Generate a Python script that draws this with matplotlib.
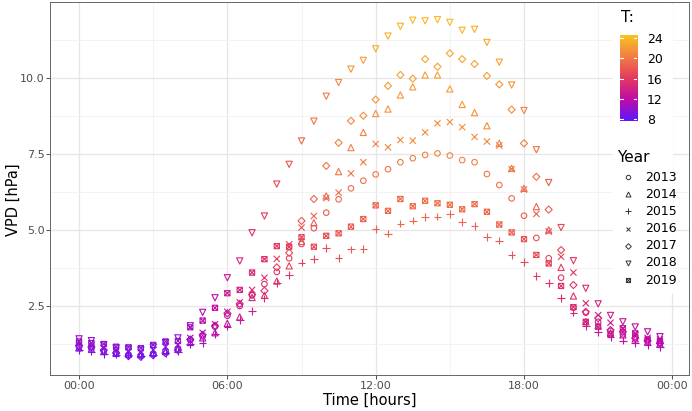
import numpy as np
import matplotlib
matplotlib.use("Agg")
import matplotlib.pyplot as plt
from matplotlib.colors import LinearSegmentedColormap, Normalize
from matplotlib.path import Path
from matplotlib.lines import Line2D
from matplotlib.patches import Rectangle

# half-hourly time of day (hours)
times = np.arange(0, 24, 0.5)
years = ["2013", "2014", "2015", "2016", "2017", "2018", "2019"]

vpd_2013 = [1.15, 1.10, 1.02, 0.97, 0.90, 0.88, 0.93, 1.02, 1.10, 1.38, 1.50, 1.82,
            2.18, 2.50, 2.85, 3.22, 3.62, 4.07, 4.54, 5.06, 5.57, 6.01, 6.37, 6.62,
            6.83, 7.00, 7.23, 7.36, 7.47, 7.52, 7.45, 7.30, 7.23, 6.84, 6.48, 6.04,
            5.47, 4.74, 4.07, 3.43, 2.45, 2.28, 1.98, 1.68, 1.57, 1.48, 1.38, 1.30]
vpd_2014 = [1.12, 1.08, 1.00, 0.94, 0.92, 0.90, 0.95, 1.00, 1.08, 1.30, 1.45, 1.62,
            1.93, 2.14, 2.78, 2.85, 3.32, 3.82, 4.62, 5.24, 6.12, 6.92, 7.71, 8.21,
            8.83, 8.98, 9.44, 9.71, 10.10, 10.10, 9.64, 9.13, 8.86, 8.43, 7.85, 7.03,
            6.37, 5.77, 5.00, 3.77, 2.83, 1.98, 1.85, 1.62, 1.55, 1.42, 1.32, 1.25]
vpd_2015 = [1.05, 1.00, 0.93, 0.90, 0.88, 0.86, 0.90, 0.95, 1.00, 1.25, 1.29, 1.58,
            1.82, 2.04, 2.34, 2.75, 3.25, 3.51, 3.93, 4.04, 4.41, 4.07, 4.36, 4.38,
            5.04, 4.88, 5.21, 5.31, 5.42, 5.44, 5.53, 5.27, 5.14, 4.76, 4.65, 4.17,
            3.94, 3.49, 3.25, 2.77, 2.28, 1.84, 1.65, 1.47, 1.36, 1.27, 1.22, 1.14]
vpd_2016 = [1.26, 1.20, 1.12, 1.05, 1.00, 0.98, 1.05, 1.15, 1.22, 1.45, 1.62, 1.90,
            2.31, 2.62, 3.03, 3.43, 4.05, 4.53, 5.08, 5.46, 6.05, 6.23, 6.86, 7.23,
            7.83, 7.72, 7.96, 7.94, 8.21, 8.51, 8.55, 8.38, 8.06, 7.91, 7.78, 7.00,
            6.33, 5.53, 4.95, 4.12, 3.60, 2.59, 2.20, 1.95, 1.75, 1.55, 1.45, 1.40]
vpd_2017 = [1.20, 1.15, 1.05, 0.95, 0.85, 0.83, 0.88, 0.95, 1.05, 1.40, 1.55, 1.85,
            2.26, 2.57, 2.88, 3.00, 3.77, 4.25, 5.30, 6.02, 7.11, 7.87, 8.59, 8.76,
            9.29, 9.74, 10.10, 9.98, 10.62, 10.37, 10.81, 10.62, 10.46, 10.07, 9.79, 8.96,
            7.85, 6.75, 5.67, 4.34, 3.19, 2.31, 2.10, 1.71, 1.65, 1.44, 1.35, 1.27]
vpd_2018 = [1.42, 1.36, 1.22, 1.12, 1.08, 1.05, 1.15, 1.30, 1.45, 1.85, 2.29, 2.77,
            3.43, 3.98, 4.91, 5.46, 6.51, 7.16, 7.93, 8.58, 9.40, 9.85, 10.29, 10.58,
            10.96, 11.38, 11.70, 11.90, 11.88, 11.92, 11.83, 11.57, 11.60, 11.17, 10.52, 9.77,
            8.93, 7.64, 6.56, 5.08, 3.99, 3.08, 2.57, 2.19, 1.98, 1.81, 1.65, 1.49]
vpd_2019 = [1.33, 1.28, 1.25, 1.16, 1.14, 1.11, 1.22, 1.33, 1.35, 1.80, 2.02, 2.44,
            2.92, 3.03, 3.60, 4.04, 4.47, 4.45, 4.76, 4.45, 4.81, 4.89, 5.11, 5.36,
            5.81, 5.63, 6.02, 5.78, 5.96, 5.88, 5.83, 5.68, 5.85, 5.60, 5.18, 4.92,
            4.70, 4.18, 3.90, 3.16, 2.46, 1.98, 1.82, 1.57, 1.77, 1.60, 1.40, 1.35]

# air temperature (colour)
t_2013 = [10.0, 9.8, 9.5, 9.3, 9.1, 9.0, 9.1, 9.4, 9.9, 10.6, 11.2, 12.0,
          12.8, 13.6, 14.4, 15.1, 15.8, 16.5, 17.1, 17.7, 18.3, 18.8, 19.2, 19.5,
          19.8, 20.0, 20.2, 20.4, 20.5, 20.6, 20.6, 20.5, 20.4, 20.1, 19.7, 19.2,
          18.5, 17.7, 16.9, 16.0, 15.0, 14.4, 13.8, 13.2, 12.8, 12.4, 12.1, 11.8]
t_2014 = [9.8, 9.6, 9.4, 9.2, 9.0, 8.9, 9.0, 9.3, 9.8, 10.4, 11.0, 11.8,
          12.6, 13.4, 14.3, 15.0, 15.8, 16.6, 17.5, 18.3, 19.1, 19.8, 20.4, 20.9,
          21.3, 21.6, 21.9, 22.1, 22.2, 22.3, 22.2, 22.0, 21.7, 21.3, 20.8, 20.1,
          19.4, 18.6, 17.6, 16.4, 15.3, 14.3, 13.6, 13.0, 12.6, 12.2, 11.8, 11.5]
t_2015 = [9.6, 9.4, 9.2, 9.0, 8.9, 8.8, 8.9, 9.1, 9.5, 10.1, 10.7, 11.4,
          12.2, 13.0, 13.8, 14.5, 15.2, 15.8, 16.4, 16.9, 17.3, 17.6, 17.9, 18.1,
          18.4, 18.6, 18.8, 18.9, 19.0, 19.1, 19.1, 19.0, 18.8, 18.5, 18.1, 17.6,
          17.0, 16.3, 15.5, 14.7, 14.0, 13.4, 12.9, 12.4, 12.0, 11.7, 11.4, 11.1]
t_2016 = [10.2, 10.0, 9.7, 9.5, 9.3, 9.2, 9.3, 9.7, 10.2, 10.9, 11.6, 12.4,
          13.2, 14.0, 14.8, 15.5, 16.2, 16.9, 17.6, 18.3, 18.9, 19.4, 19.9, 20.3,
          20.7, 20.9, 21.1, 21.2, 21.3, 21.4, 21.4, 21.3, 21.1, 20.8, 20.4, 19.9,
          19.2, 18.4, 17.6, 16.7, 15.7, 14.8, 14.1, 13.5, 13.0, 12.6, 12.3, 12.0]
t_2017 = [10.0, 9.7, 9.4, 9.1, 8.8, 8.7, 8.8, 9.2, 9.8, 10.5, 11.2, 12.0,
          12.9, 13.8, 14.7, 15.5, 16.4, 17.2, 18.1, 18.9, 19.7, 20.4, 21.0, 21.4,
          21.8, 22.1, 22.4, 22.5, 22.7, 22.7, 22.8, 22.7, 22.5, 22.2, 21.8, 21.2,
          20.4, 19.4, 18.3, 17.0, 15.8, 14.8, 14.0, 13.4, 12.9, 12.4, 12.0, 11.7]
t_2018 = [10.5, 10.2, 9.9, 9.6, 9.4, 9.2, 9.2, 9.4, 9.9, 10.5, 11.3, 12.2,
          13.2, 14.2, 15.2, 16.1, 17.0, 17.9, 18.8, 19.6, 20.4, 21.1, 21.8, 22.4,
          22.9, 23.3, 23.6, 23.8, 23.9, 24.0, 23.9, 23.7, 23.4, 23.0, 22.4, 21.6,
          20.7, 19.6, 18.4, 17.1, 16.0, 15.0, 14.2, 13.5, 12.9, 12.4, 12.0, 11.6]
t_2019 = [10.4, 10.2, 10.0, 9.8, 9.6, 9.5, 9.6, 9.9, 10.3, 11.0, 11.7, 12.5,
          13.3, 14.0, 14.7, 15.3, 15.9, 16.4, 16.9, 17.3, 17.7, 18.0, 18.3, 18.6,
          18.9, 19.1, 19.3, 19.4, 19.5, 19.6, 19.6, 19.5, 19.3, 19.1, 18.8, 18.4,
          17.9, 17.3, 16.6, 15.8, 15.0, 14.3, 13.7, 13.2, 12.8, 12.4, 12.1, 11.8]

vpd = [vpd_2013, vpd_2014, vpd_2015, vpd_2016, vpd_2017, vpd_2018, vpd_2019]
temp = [t_2013, t_2014, t_2015, t_2016, t_2017, t_2018, t_2019]

# ggplot-like shapes 1..7 ; shape 7 = square with a cross
box_x = Path([(-1, -1), (1, -1), (1, 1), (-1, 1), (-1, -1),
              (-1, -1), (1, 1), (-1, 1), (1, -1)],
             [Path.MOVETO, Path.LINETO, Path.LINETO, Path.LINETO, Path.CLOSEPOLY,
              Path.MOVETO, Path.LINETO, Path.MOVETO, Path.LINETO])
markers = ["o", "^", "+", "x", "D", "v", box_x]
sizes = [16, 20, 30, 20, 13, 20, 14]

cmap = LinearSegmentedColormap.from_list(
    "tcol", [(0.0, "#5C18FF"), (0.25, "#C00CA8"), (0.5, "#E33A5E"),
             (0.75, "#F27E45"), (1.0, "#FCC21F")])
tmin, tmax = 7.7, 24.6
norm = Normalize(tmin, tmax)

W, H = 692, 411
fig = plt.figure(figsize=(W / 100, H / 100), dpi=100)
# panel box in pixels: x 50..689, y 2..375
ax = fig.add_axes([50 / W, (H - 375) / H, 639 / W, 373 / H])

for k, yr in enumerate(years):
    cols = cmap(norm(np.array(temp[k])))
    if markers[k] in ("+", "x"):
        ax.scatter(times, vpd[k], marker=markers[k], color=cols, s=sizes[k],
                   linewidths=0.8, zorder=3)
    else:
        ax.scatter(times, vpd[k], marker=markers[k], facecolors="none",
                   edgecolors=cols, s=sizes[k], linewidths=0.8, zorder=3)

ax.set_xlim(-1.175, 24.675)
ax.set_ylim(0.23, 12.5)
ax.set_xticks([0, 6, 12, 18, 24])
ax.set_xticklabels(["00:00", "06:00", "12:00", "18:00", "00:00"])
ax.set_xticks([3, 9, 15, 21], minor=True)
ax.set_yticks([2.5, 5.0, 7.5, 10.0])
ax.set_yticklabels(["2.5", "5.0", "7.5", "10.0"])
ax.set_yticks([1.25, 3.75, 6.25, 8.75, 11.25], minor=True)

ax.set_axisbelow(True)
ax.grid(which="major", color="#E6E6E6", linewidth=0.9)
ax.grid(which="minor", color="#F1F1F1", linewidth=0.6)
ax.tick_params(which="major", length=3, width=0.6, color="#333333",
               labelsize=8, labelcolor="#4D4D4D", pad=1)
ax.tick_params(which="minor", length=0)
for sp in ax.spines.values():
    sp.set_color("#666666")
    sp.set_linewidth(0.7)

fig.text(370 / W, (H - 400) / H, "Time [hours]", fontsize=10.5,
         ha="center", va="center")
fig.text(13 / W, (H - 200) / H, "VPD [hPa]", fontsize=10.5, rotation=90,
         ha="center", va="center")

# white legend background inside the panel
ax.add_patch(Rectangle((613 / W, (H - 294) / H), 60 / W, 290 / H,
                       transform=fig.transFigure, facecolor="white",
                       edgecolor="none", zorder=1))

# colour bar legend
fig.text(621 / W, (H - 18) / H, "T:", fontsize=11, va="center", ha="left")
cax = fig.add_axes([620 / W, (H - 121) / H, 17 / W, 86 / H])
grad = np.linspace(tmin, tmax, 256).reshape(-1, 1)
cax.imshow(grad, aspect="auto", cmap=cmap, norm=norm, origin="lower",
           extent=[0, 1, tmin, tmax])
cax.set_xlim(0, 1)
cax.set_ylim(tmin, tmax)
cax.set_xticks([])
cax.set_yticks([8, 12, 16, 20, 24])
cax.yaxis.tick_right()
cax.tick_params(axis="y", length=0, labelsize=9, pad=7)
for tv in [8, 12, 16, 20, 24]:
    cax.plot([0, 0.2], [tv, tv], color="white", lw=0.8)
    cax.plot([0.8, 1], [tv, tv], color="white", lw=0.8)
for sp in cax.spines.values():
    sp.set_visible(False)

# shape legend
fig.text(617 / W, (H - 157) / H, "Year", fontsize=11, va="center", ha="left")
for k, yr in enumerate(years):
    yy = (H - (177 + 17.2 * k)) / H
    m = markers[k]
    fig.add_artist(Line2D([628 / W], [yy], transform=fig.transFigure,
                          marker=m, markersize=np.sqrt(sizes[k]) * 0.8,
                          markerfacecolor="none", markeredgecolor="#333333",
                          markeredgewidth=0.7, linestyle="none"))
    fig.text(645 / W, yy, yr, fontsize=9, va="center", ha="left")

fig.savefig("out.png", dpi=100)
